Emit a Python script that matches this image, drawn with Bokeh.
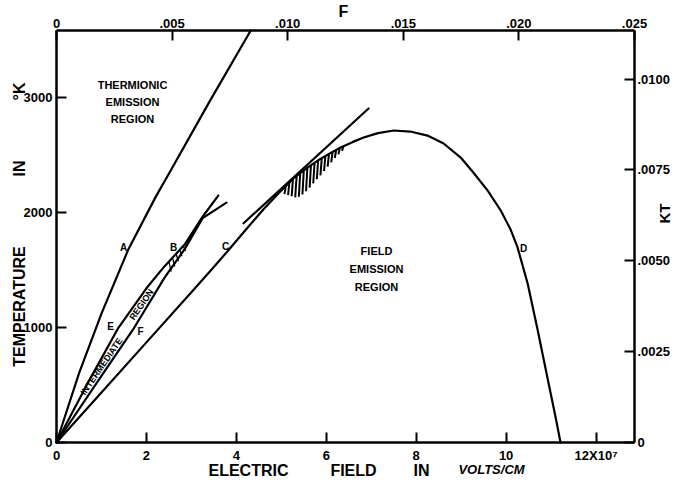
import numpy as np
from bokeh.plotting import figure
from bokeh.models import Range1d, LinearAxis, FixedTicker, Label
from bokeh.embed import file_html
from bokeh.resources import INLINE

# ---------------- data ----------------
# x: electric field in 1e7 V/cm ; T: temperature in K
curveA_x = [0, 0.5, 1.0, 1.6, 2.2, 2.54, 3.4, 4.32]
curveA_T = [0, 600, 1120, 1680, 2130, 2363, 2960, 3580]

bandU_x = [0, 0.7, 1.38, 2.0, 2.4, 2.85, 3.25, 3.6]
bandU_T = [0, 520, 999, 1340, 1530, 1720, 1962, 2146]

bandL_x = [0, 1.0, 1.73, 2.4, 2.85, 3.25, 3.78]
bandL_T = [0, 578, 999, 1430, 1680, 1950, 2085]

field_x = [0, 1.0, 2.0, 3.0, 3.43, 3.8, 4.2, 4.6, 4.95, 5.27, 5.55, 5.81, 6.07,
           6.32, 6.58, 6.83, 7.15, 7.5, 7.87, 8.25, 8.61, 8.99, 9.27, 9.59,
           9.88, 10.1, 10.25, 10.48, 10.7, 10.92, 11.1, 11.21]
field_T = [0, 435, 870, 1305, 1494, 1660, 1845, 2025, 2170, 2294, 2380, 2450, 2510,
           2563, 2610, 2650, 2688, 2711, 2702, 2667, 2598, 2476, 2346, 2189,
           2016, 1850, 1700, 1380, 980, 560, 220, 0]

tangent_x = [4.16, 6.94]
tangent_T = [1905, 2902]

hatch_x = [5.10, 5.18, 5.26, 5.34, 5.42, 5.50, 5.58, 5.66, 5.74, 5.82, 5.90,
           5.98, 6.06, 6.14, 6.22, 6.30, 6.38]
hatch_len = [70, 110, 150, 185, 205, 210, 205, 195, 180, 165, 150, 130, 110, 90, 70, 55, 40]

hatchB_x = [2.50, 2.58, 2.66, 2.74, 2.82]

x_ticks = [0, 2, 4, 6, 8, 10, 12]
y_ticks = [0, 1000, 2000, 3000]
f_ticks = [0, 5, 10, 15, 20, 25]           # F in units of 1e-3
f_labels = ["0", ".005", ".010", ".015", ".020", ".025"]
kt_ticks = [0, 25, 50, 75, 100]            # KT in units of 1e-4
kt_labels = ["0", ".0025", ".0050", ".0075", ".0100"]

X_MAX = 12.855
T_MAX = 3580
F_MAX = 25
KT_MAX = T_MAX * 3.1668e-6 * 1e4

FONT = "Liberation Sans"

# ---------------- geometry (canvas pixels of the axis box) ----------------
W, H = 685, 486
LEFT, RIGHT, TOP, BOTTOM = 56, 634, 30, 442
sx = (RIGHT - LEFT) / X_MAX
sy = (BOTTOM - TOP) / T_MAX
x0, x1 = -LEFT / sx, X_MAX + (W - RIGHT) / sx
y0, y1 = -(H - BOTTOM) / sy, T_MAX + TOP / sy

p = figure(width=W, height=H, x_range=Range1d(x0, x1), y_range=Range1d(y0, y1),
           output_backend="svg", toolbar_location=None,
           x_axis_location=None, y_axis_location=None,
           min_border=0, min_border_left=0, min_border_right=0,
           min_border_top=0, min_border_bottom=0)
p.xgrid.visible = False
p.ygrid.visible = False
p.outline_line_color = None
p.background_fill_color = "white"
p.border_fill_color = "white"

p.extra_x_ranges = {"f": Range1d(x0 * F_MAX / X_MAX, x1 * F_MAX / X_MAX)}
p.extra_y_ranges = {"kt": Range1d(y0 * KT_MAX / T_MAX, y1 * KT_MAX / T_MAX)}

bottom_axis = LinearAxis(fixed_location=0, bounds=(0, X_MAX),
                         ticker=FixedTicker(ticks=x_ticks),
                         major_label_overrides={12: "12X10\u2077"})
left_axis = LinearAxis(fixed_location=0, bounds=(0, T_MAX),
                       ticker=FixedTicker(ticks=y_ticks))
top_axis = LinearAxis(x_range_name="f", fixed_location=T_MAX, bounds=(0, F_MAX),
                      ticker=FixedTicker(ticks=f_ticks),
                      major_label_overrides=dict(zip(f_ticks, f_labels)))
right_axis = LinearAxis(y_range_name="kt", fixed_location=X_MAX, bounds=(0, KT_MAX),
                        ticker=FixedTicker(ticks=kt_ticks),
                        major_label_overrides=dict(zip(kt_ticks, kt_labels)))
p.add_layout(bottom_axis, "below")
p.add_layout(left_axis, "left")
p.add_layout(top_axis, "above")
p.add_layout(right_axis, "right")

for ax in [bottom_axis, left_axis, top_axis, right_axis]:
    ax.axis_line_width = 2.5
    ax.axis_line_color = "black"
    ax.major_tick_line_width = 2
    ax.major_tick_in = 10
    ax.major_tick_out = 0
    ax.minor_tick_line_color = None
    ax.major_label_text_font = FONT
    ax.major_label_text_font_style = "bold"
    ax.major_label_text_font_size = "13px"
    ax.major_label_text_color = "black"
    ax.major_label_standoff = 4
bottom_axis.major_label_standoff = 5
top_axis.major_label_standoff = 3
right_axis.major_label_standoff = 3

# ---------------- curves ----------------
lw = 2.2
p.line(curveA_x, curveA_T, line_width=lw, color="black", line_cap="round", line_join="round")
p.line(bandU_x, bandU_T, line_width=lw, color="black", line_cap="round", line_join="round")
p.line(bandL_x, bandL_T, line_width=lw, color="black", line_cap="round", line_join="round")
p.line(field_x, field_T, line_width=lw, color="black", line_cap="round", line_join="round")
p.line(tangent_x, tangent_T, line_width=lw, color="black", line_cap="round")

# hatching below the field-emission curve
hx = np.array(hatch_x)
htop = np.interp(hx, field_x, field_T)
hbot = htop - np.array(hatch_len)
p.segment(x0=hx, y0=htop, x1=hx - 0.03, y1=hbot, line_width=2.0, color="black")

# small hatch marks in the intermediate band near B
bx = np.array(hatchB_x)
bu = np.interp(bx, bandU_x, bandU_T)
bl = np.interp(bx, bandL_x, bandL_T)
p.segment(x0=bx, y0=bu, x1=bx + 0.05, y1=bl, line_width=1.3, color="black")

# ---------------- text ----------------
def px_to_data(px, py):
    # canvas pixel -> data coordinates
    return (px - LEFT) / sx, (BOTTOM - py) / sy

def add_text(px, py, text, size, angle=0.0, style="bold"):
    x, y = px_to_data(px, py)
    p.add_layout(Label(x=x, y=y, text=text, text_font=FONT, text_font_style=style,
                       text_font_size=size, text_align="center", text_baseline="middle",
                       angle=angle, text_color="black"))

# letter markers
add_text(123, 247, "A", "10px")
add_text(173, 247, "B", "10px")
add_text(225, 246, "C", "10px")
add_text(523, 248, "D", "10px")
add_text(110, 326, "E", "10px")
add_text(140, 331, "F", "10px")

# region names
for i, w in enumerate(["THERMIONIC", "EMISSION", "REGION"]):
    add_text(132, 84 + 17 * i, w, "11px")
for i, w in enumerate(["FIELD", "EMISSION", "REGION"]):
    add_text(376, 250 + 18 * i, w, "11px")

# intermediate region, along the band
add_text(101, 366, "INTERMEDIATE", "9px", angle=0.97)
add_text(141, 304, "REGION", "9px", angle=0.97)

# axis titles
add_text(248, 470, "ELECTRIC", "16px")
add_text(353, 470, "FIELD", "16px")
add_text(421, 470, "IN", "16px")
add_text(491, 469, "VOLTS/CM", "13px", style="bold italic")

add_text(19, 306, "TEMPERATURE", "16px", angle=np.pi / 2)
add_text(19, 168, "IN", "16px", angle=np.pi / 2)
add_text(19, 91, "\u00b0K", "16px", angle=np.pi / 2)

add_text(343, 11, "F", "16px")
add_text(664, 213, "KT", "15px", angle=np.pi / 2)

open("out.html", "w").write(file_html(p, INLINE))
